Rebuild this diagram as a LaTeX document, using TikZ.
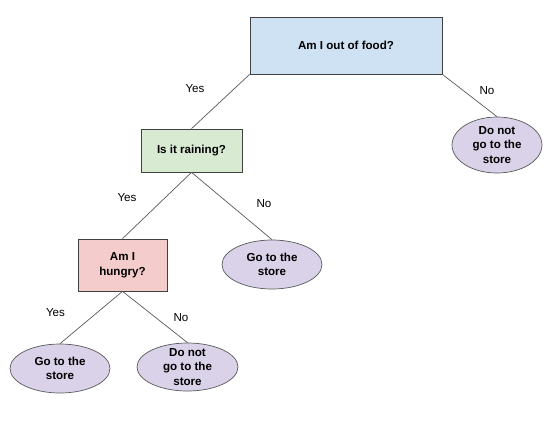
\documentclass[tikz,border=0pt]{standalone}
\usepackage{fontspec}
\setmainfont{Liberation Sans}
\usetikzlibrary{shapes.geometric}
\definecolor{qblue}{HTML}{CFE2F3}
\definecolor{qgreen}{HTML}{D9EAD3}
\definecolor{qpink}{HTML}{F4CCCC}
\definecolor{leafpurple}{HTML}{D9D2E9}
\definecolor{linegray}{HTML}{595959}
\begin{document}
\begin{tikzpicture}[x=1pt,y=-1pt,
  question/.style={draw=black!75,line width=0.7pt,rectangle,inner sep=0pt,align=center,font=\fontsize{11.6}{14.5}\selectfont\bfseries},
  leaf/.style={draw=linegray,line width=0.7pt,ellipse,inner sep=0pt,inner ysep=-4pt,align=center,font=\fontsize{11.6}{14.5}\selectfont\bfseries,fill=leafpurple},
  answer/.style={font=\fontsize{11.6}{14.5}\selectfont},
  branch/.style={draw=linegray,line width=0.7pt}]
\useasboundingbox (0,0) rectangle (554,424);
% questions
\node [question,fill=qblue,minimum width=192,minimum height=57] (food) at (346,45.5) {Am I out of food?};
\node [question,fill=qgreen,minimum width=101,minimum height=43] (rain) at (191.5,150.5) {Is it raining?};
\node [question,fill=qpink,minimum width=89,minimum height=52] (hungry) at (122.5,265) {Am I\\hungry?};
% leaves
\node [leaf,minimum width=90,minimum height=56] (stayhome) at (497,145) {Do not\\go to the\\store};
\node [leaf,minimum width=100,minimum height=49] (goraining) at (272,264.5) {Go to the\\store};
\node [leaf,minimum width=100,minimum height=49] (gohungry) at (60,368.5) {Go to the\\store};
\node [leaf,minimum width=101,minimum height=48] (stayfull) at (187.5,367) {Do not\\go to the\\store};
% branches
\draw [branch] (food.south west) -- (rain.north);
\draw [branch] (food.south east) -- (stayhome.north);
\draw [branch] (rain.south) -- (hungry.north);
\draw [branch] (rain.south) -- (goraining.north);
\draw [branch] (hungry.south) -- (gohungry.north);
\draw [branch] (hungry.south) -- (stayfull.north);
% answers
\node [answer] (yesfood) at (195,89) {Yes};
\node [answer] (nofood) at (487,91) {No};
\node [answer] (yesrain) at (127,198) {Yes};
\node [answer] (norain) at (264,204) {No};
\node [answer] (yeshungry) at (55.5,313) {Yes};
\node [answer] (nohungry) at (181,318) {No};
\end{tikzpicture}
\end{document}
